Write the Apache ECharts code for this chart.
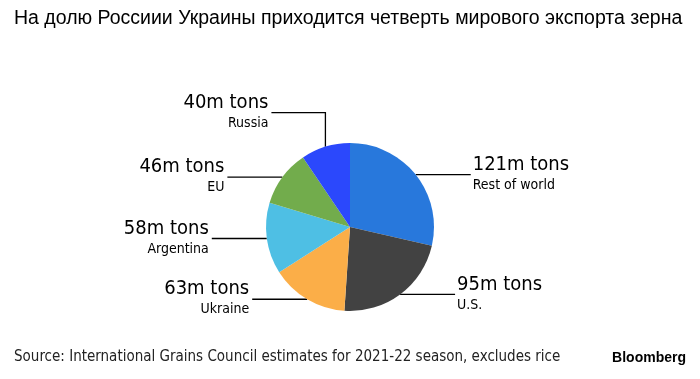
<!DOCTYPE html>
<html>
<head>
<meta charset="utf-8">
<script src="https://cdn.jsdelivr.net/npm/echarts@6/dist/echarts.min.js"></script>
<style>
html,body{margin:0;padding:0;background:#fff;}
#chart{width:700px;height:379px;}
</style>
</head>
<body>
<div id="chart"></div>
<script>
const categories = ['Rest of world', 'U.S.', 'Ukraine', 'Argentina', 'EU', 'Russia'];
const values = [121, 95, 63, 58, 46, 40];
const colors = ['#2878DC', '#424242', '#FBAE48', '#4EBFE4', '#72AC4C', '#2B48FC'];
const titleText = 'На долю Россиии Украины приходится четверть мирового экспорта зерна';
const sourceText = 'Source: International Grains Council estimates for 2021-22 season, excludes rice';

const labelFont = '"DejaVu Sans Condensed", "DejaVu Sans", sans-serif';

const chart = echarts.init(document.getElementById('chart'), null, {renderer: 'canvas'});

const option = {
  animation: false,
  backgroundColor: '#fff',
  title: [
    {
      text: titleText,
      left: 9, top: 4,
      textStyle: {fontFamily: '"Liberation Sans", Arial, sans-serif', fontSize: 19.5, fontWeight: 'normal', color: '#000'}
    },
    {
      text: sourceText,
      left: 9, top: 345,
      textStyle: {fontFamily: labelFont, fontSize: 15, fontWeight: 'normal', color: '#222'}
    },
    {
      text: 'Bloomberg',
      right: 9, top: 346,
      textStyle: {fontFamily: '"Liberation Sans", Arial, sans-serif', fontSize: 14, fontWeight: 'bold', color: '#000'}
    }
  ],
  series: [{
    type: 'pie',
    center: [350, 227],
    radius: 84,
    startAngle: 90,
    clockwise: true,
    avoidLabelOverlap: false,
    data: categories.map((c, i) => ({name: c, value: values[i], itemStyle: {color: colors[i]}})),
    itemStyle: {borderWidth: 0},
    label: {
      show: true,
      position: 'outside',
      formatter: p => '{a|' + p.value + 'm tons}\n{b|' + p.name + '}',
      rich: {
        a: {fontFamily: labelFont, fontSize: 20, lineHeight: 23, color: '#000'},
        b: {fontFamily: labelFont, fontSize: 14, lineHeight: 18, color: '#000'}
      }
    },
    labelLine: {show: true, length: 0, length2: 55, lineStyle: {color: '#000', width: 1.3}},
    emphasis: {disabled: true}
  }]
};

option.series[0].labelLayout = function (params) {
  const pts = params.labelLinePoints;
  if (!pts) return {};
  const p0 = pts[0];
  const isRight = p0[0] > 350;
  let p1, p2;
  if (params.dataIndex === 5) {
    p1 = [p0[0], p0[1] - 34];
    p2 = [p1[0] - 54, p1[1]];
  } else {
    p1 = [p0[0], p0[1]];
    p2 = [p0[0] + (isRight ? 55 : -55), p0[1]];
  }
  return {
    x: p2[0] + (isRight ? 2 : -3),
    y: p2[1] - 1,
    align: isRight ? 'left' : 'right',
    verticalAlign: 'middle',
    labelLinePoints: [p0, p1, p2]
  };
};

chart.setOption(option);
</script>
</body>
</html>
